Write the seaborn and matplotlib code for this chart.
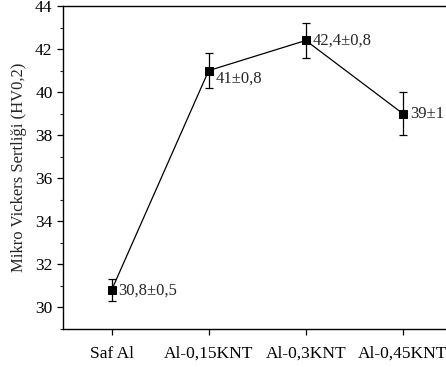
import matplotlib
matplotlib.use('Agg')
import matplotlib.pyplot as plt
import seaborn as sns
import pandas as pd
from matplotlib.ticker import MultipleLocator

#data
categories = ['Saf Al', 'Al-0,15KNT', 'Al-0,3KNT', 'Al-0,45KNT']
hardness = [30.8, 41.0, 42.4, 39.0]
errors = [0.5, 0.8, 0.8, 1.0]
labels = ['30,8\u00b10,5', '41\u00b10,8', '42,4\u00b10,8', '39\u00b11']

df = pd.DataFrame({'sample': categories, 'hv': hardness, 'err': errors})

sns.set_style('ticks')
plt.rcParams['font.family'] = ['Liberation Serif', 'DejaVu Serif']

fig = plt.figure(figsize=(4.46, 3.67), dpi=100)
ax = fig.add_axes([63/446, 38/367, 388.5/446, 323/367])

sns.lineplot(data=df, x='sample', y='hv', marker='s', markersize=5.5,
             color='black', linewidth=0.9, markeredgecolor='black', sort=False, ax=ax)
ax.errorbar(range(len(categories)), hardness, yerr=errors, fmt='none',
            ecolor='black', elinewidth=0.9, capsize=3, capthick=0.9)

#annotations
offsets = [0, -6, 0, 0]
for i, (v, t) in enumerate(zip(hardness, labels)):
    ax.annotate(t, (i, v), xytext=(5, offsets[i]), textcoords='offset points',
                va='center', ha='left', fontsize=12)

ax.set_xlim(-0.5, 3.5)
ax.set_ylim(29, 44)
ax.yaxis.set_major_locator(MultipleLocator(2))
ax.yaxis.set_minor_locator(MultipleLocator(1))
ax.set_xlabel('')
ax.set_ylabel('Mikro Vickers Sertli\u011fi (HV0,2)', fontsize=12, labelpad=6)
ax.tick_params(axis='both', which='major', direction='out', length=4, width=0.9, labelsize=12.5, colors='black')
ax.tick_params(axis='x', which='major', pad=8)
ax.tick_params(axis='y', which='minor', direction='out', length=2.5, width=0.8)
for s in ax.spines.values():
    s.set_linewidth(1.0)
    s.set_color('black')

fig.savefig('out.png', dpi=100)
